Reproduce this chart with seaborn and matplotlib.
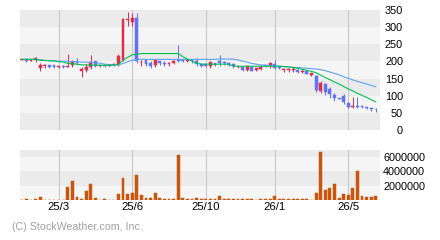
import numpy as np
import pandas as pd
import matplotlib
matplotlib.use("Agg")
import matplotlib.pyplot as plt
import seaborn as sns

# ---- data (weekly bars) ----
opens = [205, 208, 202, 204, 182, 186, 190, 189, 184, 188, 185, 191, 200, 171, 175, 184, 200, 187, 189, 188,
         189, 190, 204, 320, 316, 326, 197, 204, 194, 190, 200, 196, 192, 196, 205, 205, 201, 203, 201, 192,
         192, 188, 194, 200, 199, 195, 192, 184, 183, 175, 185, 175, 178, 189, 187, 192, 184, 176, 176, 176,
         176, 170, 172, 160, 157, 114, 133, 121, 103, 93, 100, 79, 67, 70, 69, 66, 64, 62]
highs = [208, 211, 207, 214, 195, 192, 191, 190, 188, 189, 222, 204, 211, 185, 192, 219, 202, 191, 190, 192,
         196, 221, 326, 345, 340, 341, 204, 205, 201, 205, 202, 200, 199, 204, 247, 207, 206, 205, 210, 194,
         194, 201, 196, 219, 200, 197, 194, 187, 185, 188, 187, 182, 189, 190, 199, 204, 186, 182, 182, 183,
         178, 177, 173, 167, 159, 143, 136, 124, 107, 94, 104, 82, 95, 95, 72, 68, 65, 63]
lows = [203, 198, 200, 199, 172, 182, 182, 182, 181, 182, 183, 185, 190, 155, 170, 178, 185, 185, 185, 186,
        187, 187, 200, 304, 304, 196, 188, 188, 182, 185, 190, 186, 188, 193, 199, 197, 199, 194, 188, 184,
        183, 182, 186, 188, 190, 187, 182, 182, 172, 173, 171, 173, 174, 184, 182, 178, 179, 170, 170, 170,
        166, 166, 162, 158, 110, 109, 101, 92, 86, 89, 77, 65, 65, 63, 63, 60, 55, 52]
closes = [207, 201, 205, 211, 190, 188, 185, 184, 186, 184, 188, 199, 196, 177, 185, 197, 187, 189, 187, 190,
          191, 217, 324, 322, 326, 200, 199, 193, 186, 203, 194, 192, 195, 201, 202, 202, 203, 200, 193, 188,
          187, 197, 189, 194, 194, 190, 188, 185, 174, 186, 173, 180, 185, 186, 194, 181, 181, 177, 177, 177,
          169, 173, 164, 166, 118, 136, 110, 104, 92, 91, 82, 68, 69, 68, 66, 64, 62, 60]
volume = [0, 140000, 0, 140000, 420000, 0, 0, 0, 0, 0, 1820000, 2660000, 420000, 140000, 1260000, 2240000,
          280000, 0, 140000, 0, 0, 840000, 3080000, 840000, 980000, 3500000, 700000, 280000, 280000, 980000,
          280000, 140000, 140000, 140000, 6300000, 280000, 140000, 140000, 280000, 140000, 140000, 140000,
          140000, 560000, 140000, 140000, 140000, 140000, 140000, 140000, 140000, 0, 140000, 140000, 140000,
          560000, 140000, 140000, 140000, 140000, 140000, 140000, 140000, 0, 980000, 6720000, 1400000,
          1680000, 2240000, 280000, 840000, 700000, 1680000, 4060000, 560000, 420000, 420000, 560000]
ma_short = [206, 206, 206, 206, 203, 203, 202, 202, 199, 198, 194, 193, 192, 190, 190, 189, 189, 189, 189, 189,
            189, 192, 203, 212, 219, 221, 223, 223, 223, 223, 223, 223, 223, 223, 223, 214, 207, 201, 195, 192,
            192, 192, 192, 192, 192, 192, 186, 186, 186, 186, 186, 186, 186, 186, 186, 186, 186, 185, 184, 182,
            180, 177, 174, 171, 167, 160, 153, 147, 140, 134, 127, 120, 114, 107, 101, 95, 88, 82]
ma_long = [206, 206, 206, 206, 205, 203, 202, 201, 201, 201, 200, 200, 199, 198, 198, 197, 196, 195, 192, 191,
           190, 190, 194, 199, 203, 206, 206, 206, 206, 206, 206, 206, 206, 206, 206, 206, 206, 206, 206, 206,
           206, 206, 206, 207, 207, 207, 207, 204, 201, 198, 194, 192, 190, 189, 188, 187, 186, 185, 184, 183,
           182, 181, 180, 179, 178, 176, 173, 169, 165, 161, 155, 151, 146, 142, 138, 134, 130, 126]
tick_pos = [8, 24, 40, 55, 71]
tick_labels = ["25/3", "25/6", "25/10", "26/1", "26/5"]
price_ticks = [0, 50, 100, 150, 200, 250, 300, 350]
vol_ticks = [2000000, 4000000, 6000000]

sns.set_style("white")
plt.rcParams["font.family"] = ["Liberation Sans", "DejaVu Sans"]

UP = "#d8304e"
DOWN = "#6272f2"
VOL = "#c8560e"
DARK = "#ebebeb"
LIGHT = "#f5f5f5"
GRID = "#c8c8c8"
px = 72 / 100  # one pixel in points

n = len(closes)
idx = np.arange(n)
df = pd.DataFrame({"i": idx, "o": opens, "h": highs, "l": lows, "c": closes,
                   "v": volume, "ma1": ma_short, "ma2": ma_long})

fig = plt.figure(figsize=(4.4, 2.4), dpi=100)
ax1 = fig.add_axes([20 / 440, 1 - 130 / 240, 360 / 440, 120 / 240])
ax2 = fig.add_axes([20 / 440, 1 - 200 / 240, 360 / 440, 50 / 240])

# ---- price panel ----
for k in range(7):
    ax1.axhspan(k * 50, (k + 1) * 50, color=DARK if k % 2 == 0 else LIGHT, zorder=0, lw=0)
up = df["c"] >= df["o"]
cols = np.where(up, UP, DOWN)
ax1.vlines(df["i"], df["l"], df["h"], colors=cols, lw=px, zorder=3)
body_lo = np.minimum(df["o"], df["c"])
body_h = np.maximum(np.abs(df["c"] - df["o"]), 2.6)
ax1.bar(df["i"], body_h, bottom=body_lo, width=0.62, color=cols, edgecolor=cols, lw=0.35, zorder=3)
sns.lineplot(data=df, x="i", y="ma2", color="#5fa0f2", lw=1.1 * px, ax=ax1, zorder=4)
sns.lineplot(data=df, x="i", y="ma1", color="#00c050", lw=1.1 * px, ax=ax1, zorder=4)

ax1.set_ylim(0, 350)
ax1.set_yticks(price_ticks)
ax1.yaxis.tick_right()
ax1.tick_params(axis="y", length=0, pad=23 * px, labelsize=7.8, colors="black")
for t in ax1.get_yticklabels():
    t.set_horizontalalignment("right")

# ---- volume panel ----
ax2.axhspan(0, 2e6, color=LIGHT, zorder=0, lw=0)
ax2.axhspan(2e6, 4e6, color=DARK, zorder=0, lw=0)
ax2.axhspan(4e6, 6e6, color=LIGHT, zorder=0, lw=0)
ax2.axhspan(6e6, 7e6, color=DARK, zorder=0, lw=0)
sns.barplot(data=df, x="i", y="v", color=VOL, saturation=1, width=0.62, ax=ax2, zorder=3,
            edgecolor=VOL, linewidth=0.35)
ax2.set_ylim(0, 7e6)
ax2.set_yticks(vol_ticks)
ax2.set_yticklabels([str(v) for v in vol_ticks])
ax2.yaxis.tick_right()
ax2.tick_params(axis="y", length=0, pad=3 * px, labelsize=7.8, colors="black")

for ax in (ax1, ax2):
    ax.set_xlim(-0.4, 77.9)
    ax.set_xticks(tick_pos)
    ax.set_xlabel("")
    ax.set_ylabel("")
    ax.xaxis.grid(True, color=GRID, lw=1.1 * px, zorder=1)
    ax.yaxis.grid(False)
    ax.set_axisbelow(True)
    for s in ax.spines.values():
        s.set_visible(False)
    ax.tick_params(axis="x", length=0)

ax1.set_xticklabels([])
ax2.set_xticklabels(tick_labels)
ax2.tick_params(axis="x", pad=1.5, labelsize=8.2, colors="black")

fig.text(12 / 440, 1 - 226.5 / 240, "(C) StockWeather.com, Inc.", color="#a0a0a0",
         fontsize=7.7, va="center", ha="left")

fig.savefig("out.png", dpi=100, facecolor="white")
